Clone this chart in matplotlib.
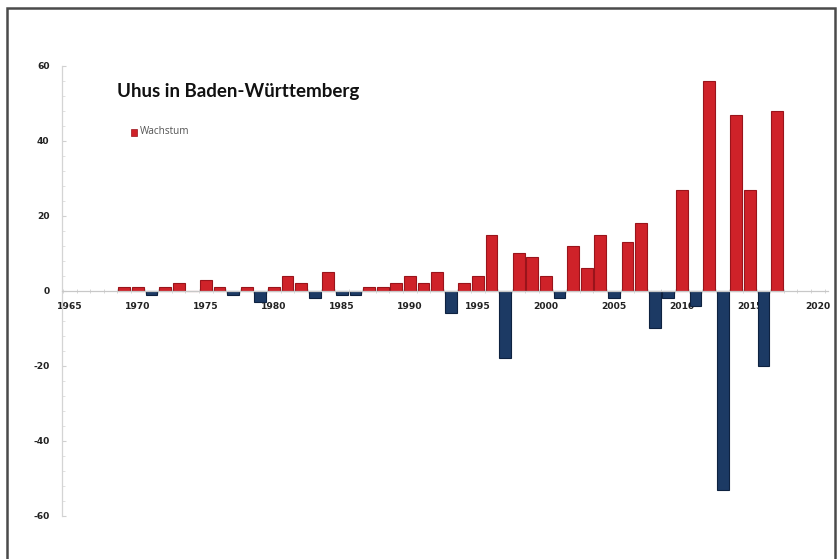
import matplotlib
matplotlib.use("Agg")
import matplotlib.pyplot as plt
from matplotlib.patches import Rectangle
from matplotlib.ticker import MultipleLocator, FixedLocator

years = [1969, 1970, 1971, 1972, 1973, 1974, 1975, 1976, 1977, 1978,
         1979, 1980, 1981, 1982, 1983, 1984, 1985, 1986, 1987, 1988,
         1989, 1990, 1991, 1992, 1993, 1994, 1995, 1996, 1997, 1998,
         1999, 2000, 2001, 2002, 2003, 2004, 2005, 2006, 2007, 2008,
         2009, 2010, 2011, 2012, 2013, 2014, 2015, 2016, 2017]
growth = [1, 1, -1, 1, 2, 0, 3, 1, -1, 1,
          -3, 1, 4, 2, -2, 5, -1, -1, 1, 1,
          2, 4, 2, 5, -6, 2, 4, 15, -18, 10,
          9, 4, -2, 12, 6, 15, -2, 13, 18, -10,
          -2, 27, -4, 56, -53, 47, 27, -20, 48]
x_ticks = [1965, 1970, 1975, 1980, 1985, 1990, 1995, 2000, 2005, 2010, 2015, 2020]
y_ticks = [-60, -40, -20, 0, 20, 40, 60]

title = "Uhus in Baden-Württemberg"
legend_label = "Wachstum"

RED, RED_EDGE = "#cf2229", "#99141b"
BLUE, BLUE_EDGE = "#1c3a64", "#0e2240"

fig = plt.figure(figsize=(8.38, 5.59), dpi=100)
ax = fig.add_axes([0.074, 0.077, 0.914, 0.805])

colors = [RED if v >= 0 else BLUE for v in growth]
edges = [RED_EDGE if v >= 0 else BLUE_EDGE for v in growth]
ax.bar(years, growth, width=0.86, color=colors, edgecolor=edges, linewidth=0.8, zorder=2)

ax.set_xlim(1964.42, 2020.74)
ax.set_ylim(-60, 60)
ax.set_axisbelow(True)

# Spines: y axis on the left, x axis crossing at zero
for s in ("top", "right"):
    ax.spines[s].set_visible(False)
ax.spines["bottom"].set_position(("data", 0))
ax.spines["bottom"].set_color("#c8c8c8")
ax.spines["left"].set_color("#d4d4d4")
ax.spines["bottom"].set_linewidth(0.9)
ax.spines["left"].set_linewidth(0.9)

ax.xaxis.set_major_locator(FixedLocator(x_ticks))
ax.xaxis.set_minor_locator(FixedLocator([y + 0.5 for y in range(1964, 2021)]))
ax.yaxis.set_major_locator(FixedLocator(y_ticks))
ax.yaxis.set_minor_locator(MultipleLocator(4))

tick_font = dict(fontsize=6.6, fontweight="bold", color="#222222", family="DejaVu Sans")
ax.set_xticklabels([str(t) for t in x_ticks], **tick_font)
ax.set_yticklabels([str(t) for t in y_ticks], **tick_font)
ax.tick_params(axis="x", which="major", length=0, pad=8)
ax.tick_params(axis="x", which="minor", length=3, direction="inout", color="#d0d0d0", width=0.6)
ax.tick_params(axis="y", which="major", length=3, direction="in", color="#d0d0d0", pad=9)
ax.tick_params(axis="y", which="minor", length=2.5, direction="in", color="#dcdcdc", width=0.6)

# Title and legend inside the plot area
fig.text(117 / 838, 1 - 92 / 559, title, fontsize=13.5, fontweight="bold",
         family="Lato", color="#111111", ha="left", va="center")
fig.patches.append(Rectangle((131 / 838, 1 - 135.5 / 559), 5.5 / 838, 6.5 / 559,
                             transform=fig.transFigure, facecolor=RED,
                             edgecolor=RED_EDGE, linewidth=0.5))
fig.text(140 / 838, 1 - 131.5 / 559, legend_label, fontsize=7.2, family="Open Sans",
         color="#555555", ha="left", va="center")

# Outer frame around the chart
fig.patches.append(Rectangle((6.5 / 838, -0.05), (835 - 6.5) / 838, 1.05 - 8 / 559,
                             transform=fig.transFigure, fill=False,
                             edgecolor="#4a4a4a", linewidth=1.8))

fig.savefig("out.png", dpi=100)
